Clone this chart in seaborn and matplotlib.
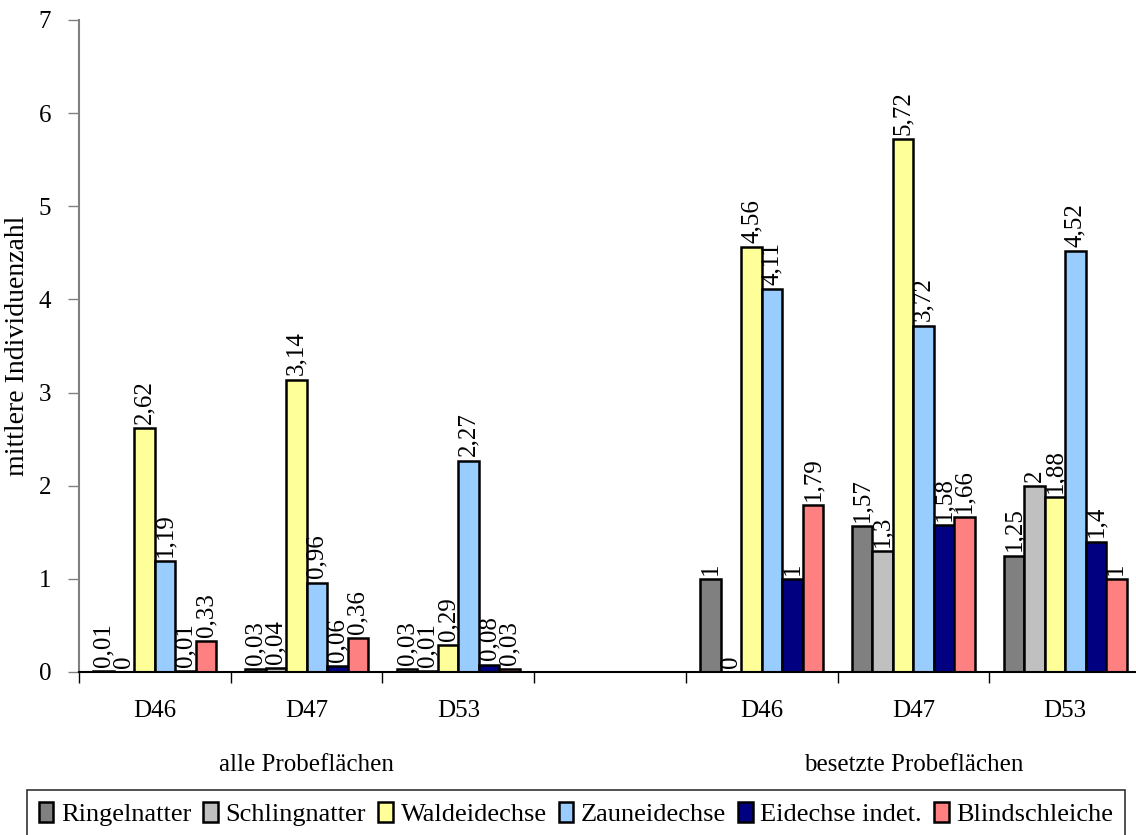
import numpy as np
import pandas as pd
import matplotlib
matplotlib.use("Agg")
import matplotlib.pyplot as plt
from matplotlib.ticker import FixedLocator
import seaborn as sns

# Sites and survey subsets
sites = ["D46", "D47", "D53"]
subsets = ["alle Probeflächen", "besetzte Probeflächen"]
species = ["Ringelnatter", "Schlingnatter", "Waldeidechse",
           "Zauneidechse", "Eidechse indet.", "Blindschleiche"]

# mean counts per species (rows: D46, D47, D53)
alle_values = [
    [0.01, 0.00, 2.62, 1.19, 0.01, 0.33],
    [0.03, 0.04, 3.14, 0.96, 0.06, 0.36],
    [0.03, 0.01, 0.29, 2.27, 0.08, 0.03],
]
besetzt_values = [
    [1.00, 0.00, 4.56, 4.11, 1.00, 1.79],
    [1.57, 1.30, 5.72, 3.72, 1.58, 1.66],
    [1.25, 2.00, 1.88, 4.52, 1.40, 1.00],
]

colors = ["#808080", "#C0C0C0", "#FFFF99", "#99CCFF", "#000080", "#FF8080"]

rows = []
for prefix, table in (("a", alle_values), ("b", besetzt_values)):
    for site, vals in zip(sites, table):
        for sp, v in zip(species, vals):
            rows.append({"key": f"{prefix}_{site}", "species": sp, "value": v})
df = pd.DataFrame(rows)

order = ["a_D46", "a_D47", "a_D53", "gap", "b_D46", "b_D47", "b_D53"]
tick_text = ["D46", "D47", "D53", "", "D46", "D47", "D53"]

plt.rcParams["font.family"] = ["Liberation Serif", "DejaVu Serif"]

fig = plt.figure(figsize=(11.36, 8.35), dpi=100)
ax = fig.add_axes([79 / 1136, 163 / 835, 1062 / 1136, 652 / 835])

sns.barplot(data=df, x="key", y="value", hue="species", order=order,
            hue_order=species, palette=colors, width=0.81, gap=0,
            edgecolor="black", linewidth=1.8, saturation=1, ax=ax,
            legend=True)

fs = 18
for cont in ax.containers:
    labels = [f"{v:g}".replace(".", ",") for v in cont.datavalues]
    ax.bar_label(cont, labels=labels, rotation=90, padding=3, fontsize=fs)

ax.set_ylim(0, 7)
ax.set_xlim(-0.5, 6.5)
ax.set_yticks(range(0, 8))
ax.tick_params(axis="y", labelsize=fs, length=8, width=1, color="#808080", pad=12)
ax.set_xticks(range(len(order)))
ax.set_xticklabels(tick_text, fontsize=fs)
ax.tick_params(axis="x", which="major", length=0, pad=20)
ax.xaxis.set_minor_locator(FixedLocator(np.arange(-0.5, 7, 1.0)))
ax.tick_params(axis="x", which="minor", length=8, width=1, color="black")
ax.set_xlabel("")
ax.set_ylabel("mittlere Individuenzahl", fontsize=20, labelpad=6)

for side in ("top", "right"):
    ax.spines[side].set_visible(False)
ax.spines["left"].set_color("#808080")
ax.spines["left"].set_linewidth(1.5)
ax.spines["bottom"].set_color("black")
ax.spines["bottom"].set_linewidth(1.5)

# subset captions under the site labels
for center, name in ((1.0, subsets[0]), (5.0, subsets[1])):
    ax.text(center, -0.143, name, transform=ax.get_xaxis_transform(),
            ha="center", va="center", fontsize=fs)

ax.get_legend().remove()
handles, labs = ax.get_legend_handles_labels()
leg = fig.legend(handles[:6], labs[:6], loc="center", ncol=6,
                 bbox_to_anchor=(576 / 1136, 21 / 835), fontsize=19,
                 frameon=True, fancybox=False, edgecolor="black",
                 handlelength=0.55, handleheight=0.8, handletextpad=0.3,
                 columnspacing=0.45, borderpad=0.45, borderaxespad=0)
leg.get_frame().set_linewidth(1.2)

fig.savefig("out.png", dpi=100)
